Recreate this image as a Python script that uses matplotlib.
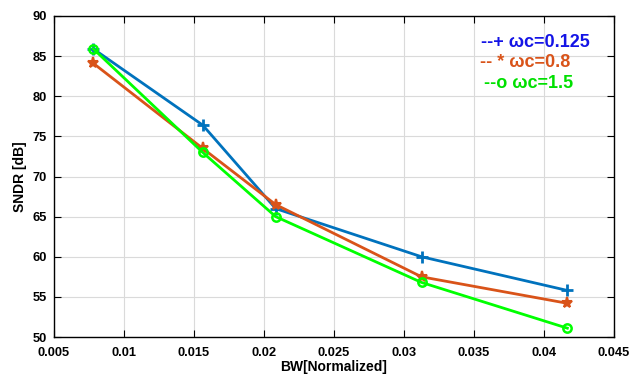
import matplotlib
matplotlib.use("Agg")
import matplotlib.pyplot as plt

bw = [1/128, 1/64, 1/48, 1/32, 1/24]
sndr_0125 = [85.9, 76.4, 66.0, 60.0, 55.8]
sndr_08 = [84.1, 73.5, 66.5, 57.5, 54.2]
sndr_15 = [85.9, 73.0, 65.0, 56.8, 51.1]
labels = ["--+ ωc=0.125", "-- * ωc=0.8", "--o ωc=1.5"]
xticks = [0.005, 0.01, 0.015, 0.02, 0.025, 0.03, 0.035, 0.04, 0.045]
xtick_labels = ["0.005", "0.01", "0.015", "0.02", "0.025", "0.03", "0.035", "0.04", "0.045"]
yticks = [50, 55, 60, 65, 70, 75, 80, 85, 90]

plt.rcParams['font.family'] = ['Liberation Sans', 'DejaVu Sans']
fig = plt.figure(figsize=(6.31, 3.76), dpi=100)
ax = fig.add_axes([54/631, 1-337/376, (614-54)/631, (337-16)/376])

ax.plot(bw, sndr_0125, '-', color='#0072BD', lw=2, marker='+', ms=9, mew=2)
ax.plot(bw, sndr_08, '-', color='#D95319', lw=2, marker='*', ms=8, mew=1.5)
ax.plot(bw, sndr_15, '-', color='#00FF00', lw=2, marker='o', ms=6, mew=1.8, mfc='none')

ax.set_xlim(0.005, 0.045)
ax.set_ylim(50, 90)
ax.set_xticks(xticks)
ax.set_xticklabels(xtick_labels)
ax.set_yticks(yticks)
ax.grid(True, color='#DADADA', lw=0.8)
ax.tick_params(direction='in', length=5, labelsize=9.3, top=True, right=True)
ax.tick_params(axis='x', pad=7)
ax.tick_params(axis='y', pad=5)
for lab in ax.get_xticklabels() + ax.get_yticklabels():
    lab.set_fontweight('bold')
for s in ax.spines.values():
    s.set_linewidth(1.0)
ax.set_xlabel('BW[Normalized]', fontsize=10, fontweight='bold', labelpad=1)
ax.set_ylabel('SNDR [dB]', fontsize=10, fontweight='bold', labelpad=4)

colors_txt = ['#1414E6', '#D95319', '#00E000']
ys = [0.916, 0.854, 0.791]
xs = [0.7625, 0.7605, 0.768]
for t, c, y, x in zip(labels, colors_txt, ys, xs):
    ax.text(x, y, t, transform=ax.transAxes, color=c, fontsize=13, fontweight='bold', va='center')

fig.savefig('out.png', dpi=100)
